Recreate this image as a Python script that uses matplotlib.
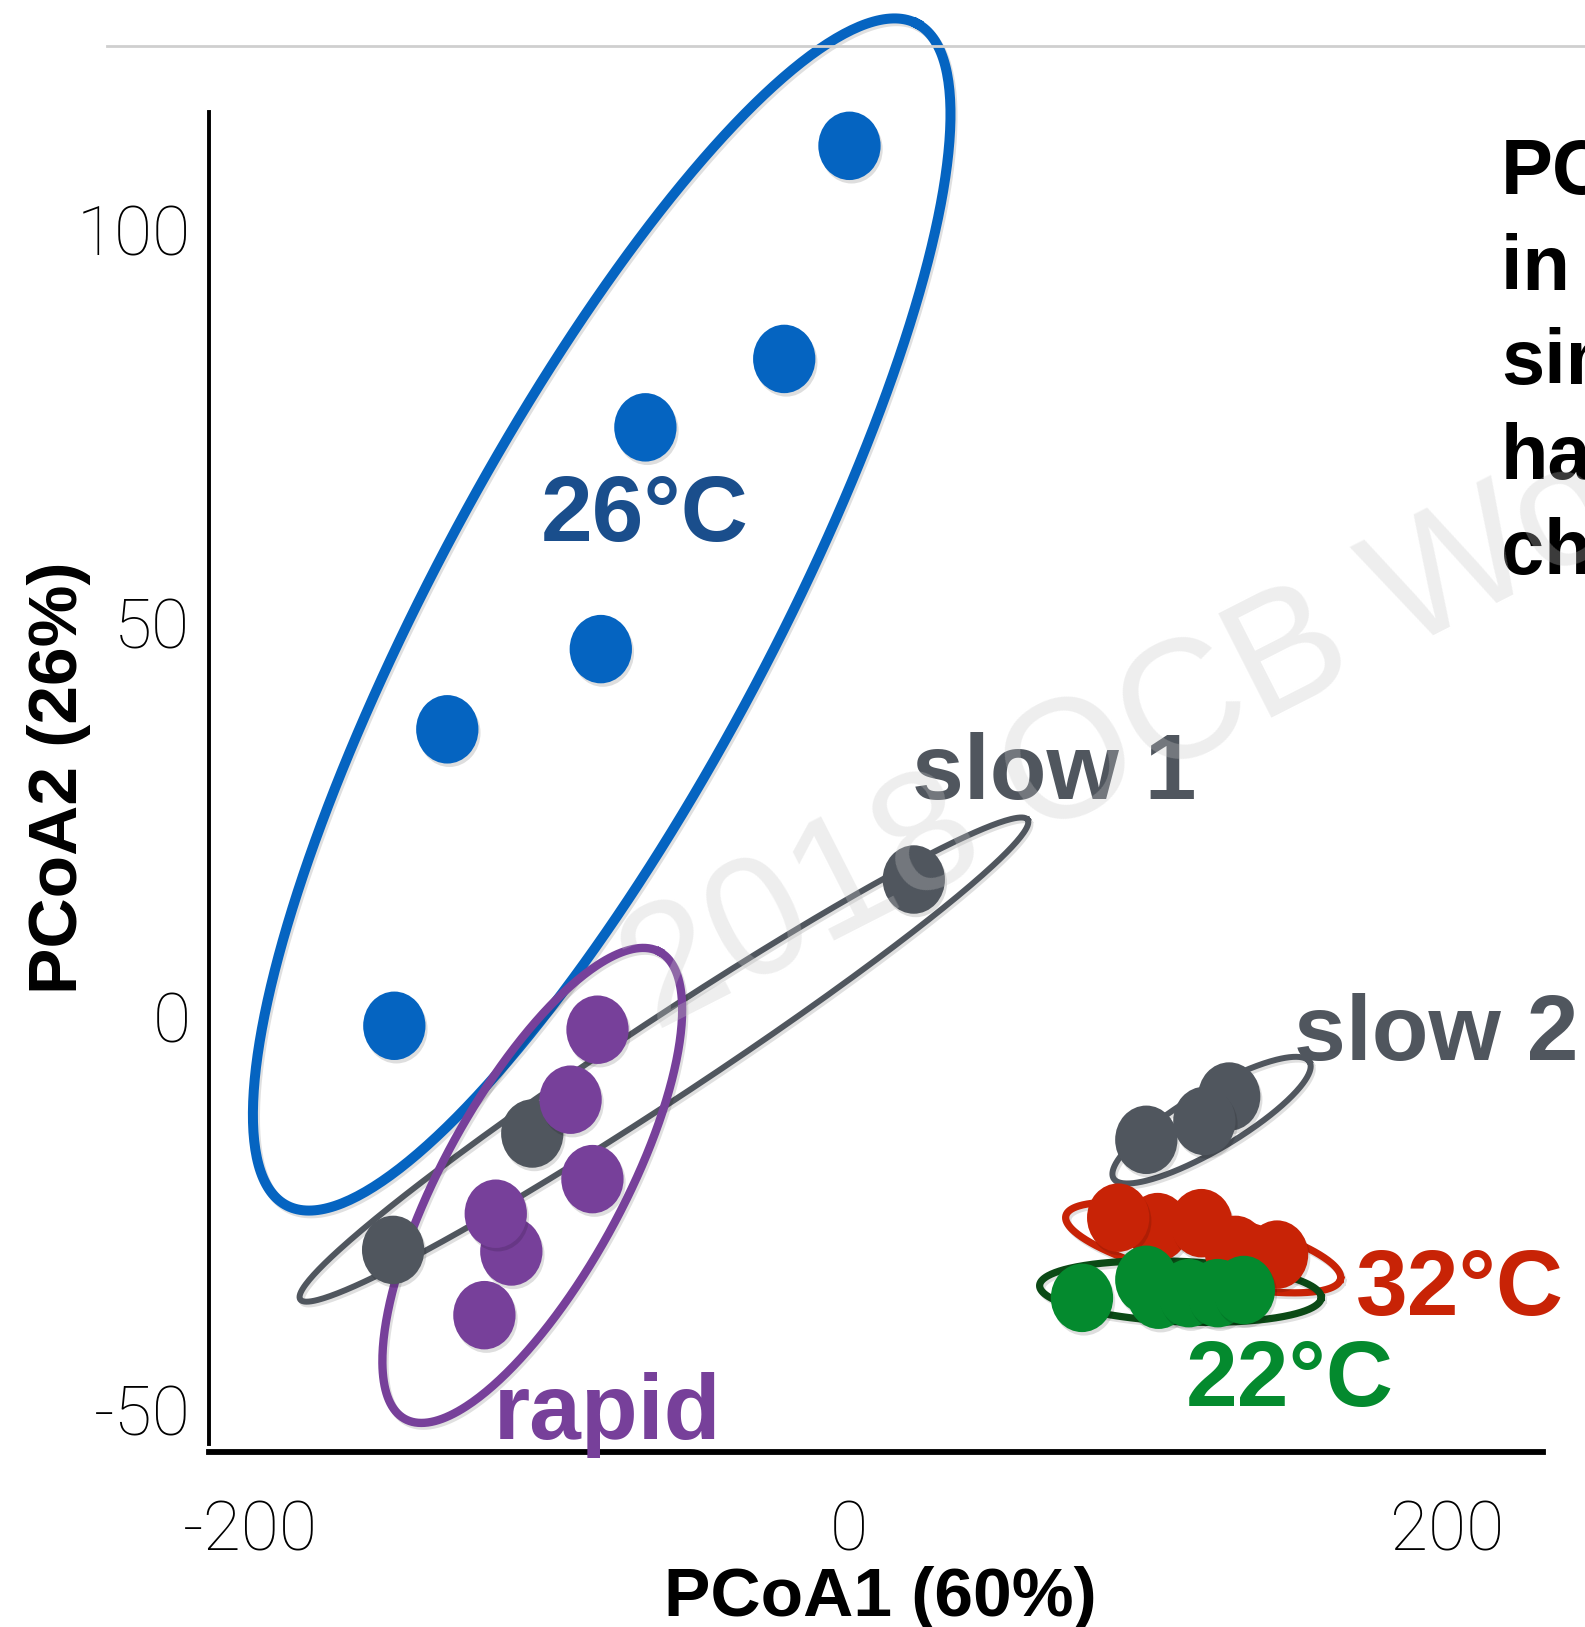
import numpy as np
import matplotlib
matplotlib.use("Agg")
import matplotlib.pyplot as plt
from matplotlib.path import Path
from matplotlib.transforms import Affine2D
from matplotlib.lines import Line2D
import matplotlib.patheffects as pe

plt.rcParams.update({"font.family": ["Liberation Sans", "DejaVu Sans"],
                     "axes.unicode_minus": False})

W, H = 1585, 1627

# ---------------------------------------------------------------- data
blue_x = [0.3, -21.5, -67.9, -82.8, -134.1, -151.8]          # 26°C
blue_y = [110.7, 83.6, 74.9, 46.7, 36.5, -1.2]
slow1_x = [21.8, -105.7, -152.2]
slow1_y = [17.4, -14.9, -29.7]
rapid_x = [-83.9, -92.9, -85.6, -112.7, -117.9, -121.7]
rapid_y = [-1.7, -10.6, -20.7, -29.9, -25.1, -38.0]
slow2_x = [127.2, 99.5, 118.9]
slow2_y = [-10.2, -15.7, -13.3]
red_x = [103.3, 90.1, 117.9, 129.3, 143.2]                   # 32°C
red_y = [-26.8, -25.6, -26.3, -29.7, -30.3]
green_x = [78.0, 99.5, 103.6, 113.7, 123.4, 132.1]           # 22°C
green_y = [-35.8, -33.5, -35.4, -35.2, -35.2, -34.8]

# group ellipses: centre, semi-axes (PCoA1 units), tilt (deg, on screen)
ell_names = ["26", "slow1", "rapid", "slow2", "32", "22"]
ell_cx = [-82.5, -61.7, -105.7, 121.3, 118.5, 110.9]
ell_cy = [51.1, -5.5, -21.5, -13.2, -29.4, -35.0]
ell_a = [223.8, 145.6, 88.9, 38.1, 47.1, 47.1]
ell_b = [56.4, 13.2, 30.1, 9.7, 11.1, 10.1]
ell_ang = [61.9, 33.4, 61.4, 30.7, -13.0, -2.5]

BLUE, GREY, PURPLE, RED, GREEN = "#0564c1", "#50565e", "#77409a", "#c82306", "#048a2e"
ell_colors = [BLUE, GREY, PURPLE, GREY, RED, "#0b4a16"]
ell_lw = [7.2, 4.3, 6.0, 4.3, 5.2, 5.2]

# ---------------------------------------------------------------- figure
fig = plt.figure(figsize=(W / 100, H / 100), dpi=100)
ax = fig.add_axes([208.5 / W, 1 - 1452 / H, 1334 / W, 1340 / H])
ax.set_xlim(-213.9, 231.9)
ax.set_ylim(-55.4, 115.0)
for s in ("top", "right"):
    ax.spines[s].set_visible(False)
ax.spines["left"].set_linewidth(2.8)
ax.spines["bottom"].set_linewidth(4.2)
ax.spines["left"].set_bounds(-54.4, 115.0)
ax.set_xticks([-200, 0, 200])
ax.set_yticks([-50, 0, 50, 100])
ax.tick_params(length=0, labelsize=50)
ax.tick_params(axis="y", pad=13)
ax.tick_params(axis="x", pad=34)
for lab in ax.get_xticklabels() + ax.get_yticklabels():
    lab.set_family(["Roboto", "Liberation Sans"])
    lab.set_fontweight("light")

# screen aspect so ellipses keep their drawn shape
p0 = ax.transData.transform((0, 0))
r = (ax.transData.transform((0, 1))[1] - p0[1]) / (ax.transData.transform((1, 0))[0] - p0[0])

t = np.linspace(0, 2 * np.pi, 400)
line_shadow = [pe.SimpleLineShadow(offset=(1.5, -2), alpha=0.12), pe.Normal()]
for cx, cy, a, b, ang, c, lw in zip(ell_cx, ell_cy, ell_a, ell_b, ell_ang, ell_colors, ell_lw):
    th = np.deg2rad(ang)
    ex = cx + a * np.cos(t) * np.cos(th) - b * np.sin(t) * np.sin(th)
    ey = cy + (a * np.cos(t) * np.sin(th) + b * np.sin(t) * np.cos(th)) / r
    ax.plot(ex, ey, color=c, lw=lw, zorder=2, path_effects=line_shadow, clip_on=False)

# slightly tall dots like the original
dot = Path.unit_circle().transformed(Affine2D().scale(0.91, 1.0))
dot_shadow = [pe.SimplePatchShadow(offset=(1.5, -2.5), shadow_rgbFace="k", alpha=0.13), pe.Normal()]
groups = [(slow1_x, slow1_y, GREY), (rapid_x, rapid_y, PURPLE), (blue_x, blue_y, BLUE),
          (slow2_x, slow2_y, GREY), (red_x, red_y, RED), (green_x, green_y, GREEN)]
z = 3
for gx, gy, c in groups:
    for x, y in zip(gx, gy):
        ax.scatter([x], [y], s=2430, marker=dot, color=c, edgecolors="none", zorder=z,
                   path_effects=dot_shadow, clip_on=False)
        z += 0.01

# group labels
lab_kw = dict(fontsize=67, fontweight="bold", va="baseline", zorder=6, clip_on=False)
ax.text(-68.3, 60.4, "26°C", color="#1a4e8c", ha="center", **lab_kw)
ax.text(68.6, 27.7, "slow 1", color=GREY, ha="center", **lab_kw)
ax.text(149.0, -5.5, "slow 2", color=GREY, ha="left", **lab_kw)
ax.text(204.3, -38.0, "32°C", color=RED, ha="center", **lab_kw)
ax.text(147.3, -49.5, "22°C", color=GREEN, ha="center", **lab_kw)
ax.text(-80.4, -53.8, "rapid", color=PURPLE, ha="center", **lab_kw)

ax.set_xlabel("PCoA1 (60%)", fontsize=50, fontweight="bold", va="baseline")
ax.xaxis.set_label_coords(0.5034, -0.1224)
ax.set_ylabel("PCoA2 (26%)", fontsize=50, fontweight="bold", va="baseline")
ax.yaxis.set_label_coords(-0.0985, 0.503)

# slide furniture: rule, side text (cut by the slide edge), watermark
fig.add_artist(Line2D([107 / W, 1], [1 - 45.6 / H] * 2, color="#cfcfcf", lw=2))
for yy, s in zip([194, 290, 384, 479, 574], ["PCoA", "in the", "similar", "have", "change"]):
    fig.text(1501 / W, 1 - yy / H, s, fontsize=56, fontweight="bold", va="baseline", ha="left")
fig.text(655 / W, 1 - 1032 / H, "2018 OCB Workshop", fontsize=122, color="#c8c8c8", alpha=0.3,
         rotation=27, rotation_mode="anchor", ha="left", va="baseline", zorder=10)

fig.savefig("out.png", dpi=100)
